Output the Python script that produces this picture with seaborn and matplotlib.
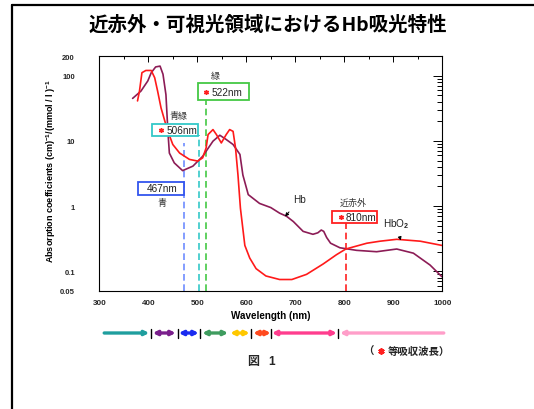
import matplotlib
matplotlib.use("Agg")
import matplotlib.pyplot as plt
import numpy as np
import pandas as pd
import seaborn as sns
from matplotlib.patches import Rectangle
from matplotlib.lines import Line2D
from matplotlib.ticker import NullFormatter, FixedLocator

# ---------------- data ----------------
hb_wl = [368, 385, 399, 406, 415, 424, 430, 436, 440, 443, 453, 470, 491, 511, 532,
         546, 559, 573, 587, 593, 604, 627, 650, 668, 682, 696, 716, 736, 746, 753,
         758, 764, 772, 791, 825, 866, 907, 941, 975, 999]
hb_val = [44.8, 58, 83, 111, 136, 140, 105, 51, 14, 6.5, 4.6, 3.5, 4.1, 5.8, 9.9,
          12.2, 10.5, 8.8, 6.2, 3.0, 1.5, 1.1, 0.95, 0.78, 0.70, 0.58, 0.41, 0.37, 0.39, 0.43,
          0.41, 0.33, 0.27, 0.23, 0.21, 0.20, 0.22, 0.19, 0.125, 0.083]

hbo2_wl = [378, 382, 387, 395, 406, 413, 419, 426, 433, 440, 450, 464, 484, 501, 511,
           518, 522, 532, 539, 549, 559, 566, 573, 578, 583, 588, 597, 607, 620, 640,
           668, 693, 723, 757, 784, 803, 846, 873, 907, 955, 999]
hbo2_val = [41, 58, 111, 120, 120, 93, 58, 32, 21, 14, 8.8, 6.5, 5.2, 4.9, 5.5,
            7.8, 12.5, 14.9, 12.5, 9.3, 12.5, 14.9, 14, 7.8, 3.0, 0.93, 0.25, 0.16, 0.11, 0.085,
            0.075, 0.075, 0.09, 0.13, 0.18, 0.22, 0.27, 0.29, 0.31, 0.29, 0.25]

# isosbestic markers (drawn positions), label texts, colors, upper ends
iso_wl = [473, 504, 518, 803]
iso_top = [9.3, 12.2, 44.7, 0.56]
iso_colors = ["#6E8CFF", "#33C8C8", "#44C844", "#FF2020"]
iso_labels = ["467nm", "506nm", "522nm", "810nm"]
iso_names = ["青", "青緑", "緑", "近赤外"]

x_ticks = [300, 400, 500, 600, 700, 800, 900, 1000]
x_minor = [350, 450, 550, 650, 750, 850, 950]
y_ticks = [0.05, 0.1, 1, 10, 100, 200]
y_ticklabels = ["0.05", "0.1", "1", "10", "100", "200"]

# spectrum bar
seg_start = [310, 409, 462, 510, 567, 614, 652, 791]
seg_end = [402, 456, 503, 563, 607, 650, 785, 1003]
seg_colors = ["#1F9E9E", "#7A1F8C", "#1A2BF0", "#3F9C5F", "#FFC800", "#FF4A1F", "#FF3D8E", "#FF9EC9"]
seg_styles = ["-|>", "<|-|>", "<|-|>", "<|-|>", "<|-|>", "<|-|>", "<|-|>", "<|-"]
seg_ticks = [405, 460, 505, 610, 651, 787]

title = "近赤外・可視光領域におけるHb吸光特性"

# ---------------- style ----------------
sns.set_theme(style="white")
plt.rcParams["font.family"] = ["Liberation Sans", "Noto Sans CJK JP", "DejaVu Sans"]
plt.rcParams["mathtext.fontset"] = "custom"
plt.rcParams["mathtext.rm"] = "Liberation Sans:bold"
plt.rcParams["mathtext.bf"] = "Liberation Sans:bold"
plt.rcParams["mathtext.it"] = "Liberation Sans:bold"

W, H = 534, 410
fig = plt.figure(figsize=(W / 100, H / 100), dpi=100)
fig.patch.set_facecolor("white")


def fx(x):
    return x / W


def fy(y):
    return 1 - y / H


L, R, T, B = 99.3, 442.3, 57.0, 292.0
ax = fig.add_axes([fx(L), fy(B), (R - L) / W, (B - T) / H])

df = pd.concat([
    pd.DataFrame({"wl": hb_wl, "val": hb_val, "sp": "Hb"}),
    pd.DataFrame({"wl": hbo2_wl, "val": hbo2_val, "sp": "HbO2"}),
])
sns.lineplot(data=df, x="wl", y="val", hue="sp", palette={"Hb": "#8C1C56", "HbO2": "#FF1A1A"},
             ax=ax, legend=False, sort=False, estimator=None, lw=1.2)

ax.set_yscale("log")
ax.set_xlim(300, 1000)
ax.set_ylim(0.05, 200)
ax.set_xlabel("")
ax.set_ylabel("")

ax.set_xticks(x_ticks)
ax.set_xticklabels([str(v) for v in x_ticks])
ax.xaxis.set_minor_locator(FixedLocator(x_minor))
ax.set_yticks(y_ticks)
ax.set_yticklabels(y_ticklabels)
minors = [k * 10.0 ** e for e in range(-2, 3) for k in range(2, 10)]
minors = [m for m in minors if 0.05 < m < 200]
ax.yaxis.set_minor_locator(FixedLocator(minors))
ax.yaxis.set_minor_formatter(NullFormatter())

ax.tick_params(which="both", direction="in", top=True, right=True, color="black", width=0.7)
ax.tick_params(axis="y", which="major", length=6.5, labelsize=5.5, pad=17.5)
ax.tick_params(axis="y", which="minor", length=3.4)
ax.tick_params(axis="x", which="major", length=4.3, labelsize=5.8, pad=5.5)
ax.tick_params(axis="x", which="minor", length=2.4)
for lab in ax.get_xticklabels() + ax.get_yticklabels():
    lab.set_fontweight("bold")
for s in ax.spines.values():
    s.set_color("black")
    s.set_linewidth(0.8)

# isosbestic dashed lines
for xw, top, c in zip(iso_wl, iso_top, iso_colors):
    ax.plot([xw, xw], [0.05, top], color=c, lw=1.2, ls=(0, (4, 2.2)), zorder=1)

# label boxes (figure pixel layout)
boxes = [
    (138.3, 184.3, 183.3, 195.7, 161.7, False, (162.3, 204.0)),
    (152.3, 198.3, 125.0, 137.3, 182.0, True, (178.0, 116.7)),
    (197.7, 249.0, 84.3, 100.7, 227.0, True, (215.0, 76.7)),
    (332.3, 377.3, 212.3, 224.3, 361.0, True, (353.0, 203.0)),
]
for (x0, x1, y0, y1, tx, star, npos), c, lab, nm in zip(boxes, iso_colors, iso_labels, iso_names):
    ec = "#3355EE" if c == "#6E8CFF" else c
    fig.add_artist(Rectangle((fx(x0), fy(y1)), (x1 - x0) / W, (y1 - y0) / H,
                             transform=fig.transFigure, fc="white", ec=ec, lw=1.3, zorder=5))
    fig.text(fx(tx), fy((y0 + y1) / 2), lab, ha="center", va="center", fontsize=7.2,
             color="#222222", zorder=6)
    if star:
        fig.add_artist(Line2D([fx(x0 + 8.3)], [fy((y0 + y1) / 2)], transform=fig.transFigure,
                              marker=(6, 2, 0), ms=3.5, mew=1.0, color="#FF2020", ls="none", zorder=6))
    fig.text(fx(npos[0]), fy(npos[1]), nm, ha="center", va="center", fontsize=6.5,
             color="#333333", family=["Noto Sans CJK JP"], zorder=6)

# curve labels
ax.annotate("Hb", xy=(285, H - 217.5), xycoords="figure pixels",
            xytext=(300, H - 200.5), textcoords="figure pixels", ha="center", va="center",
            fontsize=7.2, color="#222222",
            arrowprops=dict(arrowstyle="-|>", color="black", lw=0.7, mutation_scale=5,
                            shrinkA=4, shrinkB=0))
ax.annotate("HbO$_2$", xy=(400.7, H - 241.5), xycoords="figure pixels",
            xytext=(396, H - 224), textcoords="figure pixels", ha="center", va="center",
            fontsize=7.2, color="#222222",
            arrowprops=dict(arrowstyle="-|>", color="black", lw=0.7, mutation_scale=5,
                            shrinkA=4, shrinkB=0))

# axis labels and title
fig.text(fx((L + R) / 2), fy(316), "Wavelength (nm)", ha="center", va="center",
         fontsize=7.1, fontweight="bold", color="black")
fig.text(fx(51), fy(171), r"Absorption coefficients (cm)$^{-1}$/(mmol / l )$^{-1}$",
         rotation=90, ha="center", va="center", fontsize=6.5, fontweight="bold", color="black")
fig.text(fx(268), fy(25.5), title, ha="center", va="center", fontsize=14, fontweight="bold",
         family=["Noto Sans CJK JP"], color="black")

# spectrum bar
bax = fig.add_axes([fx(L), fy(340), (R - L) / W, 12 / H])
bax.set_xlim(300, 1000)
bax.set_ylim(-1, 1)
bax.axis("off")
for s0, s1, c, st in zip(seg_start, seg_end, seg_colors, seg_styles):
    bax.annotate("", xy=(s1, 0), xytext=(s0, 0), annotation_clip=False,
                 arrowprops=dict(arrowstyle=st, color=c, lw=2.4, mutation_scale=6,
                                 shrinkA=0, shrinkB=0))
for t in seg_ticks:
    bax.plot([t, t], [-0.75, 0.75], color="black", lw=1.0, clip_on=False)

# notes
fig.text(fx(363), fy(352), "（", ha="left", va="center", fontsize=7.5, fontweight="bold",
         family=["Noto Sans CJK JP"])
fig.add_artist(Line2D([fx(381)], [fy(352)], transform=fig.transFigure, marker=(6, 2, 0),
                      ms=4.5, mew=1.3, color="#FF2020", ls="none"))
fig.text(fx(388), fy(352), "等吸収波長）", ha="left", va="center", fontsize=7.5,
         fontweight="bold", family=["Noto Sans CJK JP"])
fig.text(fx(253), fy(362), "図", ha="center", va="center", fontsize=8.6, fontweight="bold",
         family=["Noto Sans CJK JP"])
fig.text(fx(272), fy(362), "1", ha="center", va="center", fontsize=8.6, fontweight="bold")

# slide border
fig.add_artist(Line2D([fx(12), fx(12)], [0, fy(6)], transform=fig.transFigure, color="black", lw=1.6))
fig.add_artist(Line2D([fx(12), 1], [fy(6), fy(6)], transform=fig.transFigure, color="black", lw=1.6))

fig.savefig("out.png", dpi=100, facecolor="white")
